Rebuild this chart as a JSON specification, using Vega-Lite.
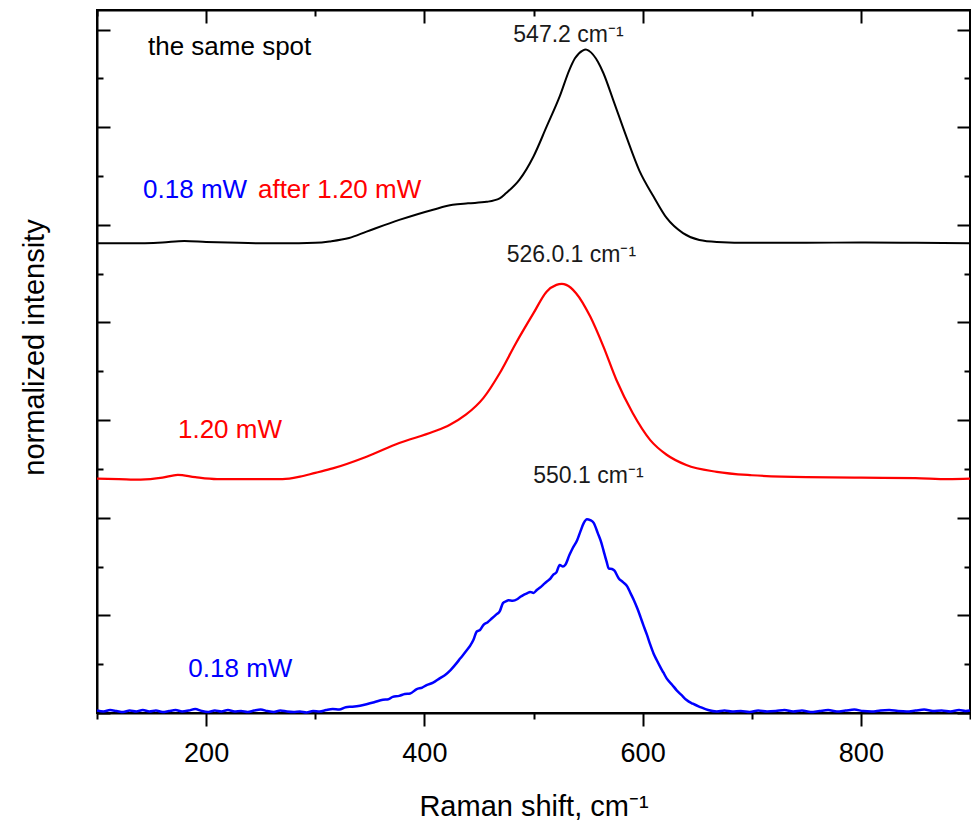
{
  "$schema": "https://vega.github.io/schema/vega-lite/v6.json",
  "autosize": {"type": "none"},
  "padding": {"left": 97, "top": 10, "right": 1, "bottom": 109},
  "width": 873,
  "height": 703,
  "background": "white",
  "config": {
    "view": {"stroke": "black", "strokeWidth": 2},
    "font": "Liberation Sans",
    "axis": {"grid": false, "domainColor": "black", "domainWidth": 2, "tickColor": "black", "tickWidth": 2, "labelColor": "black", "titleColor": "black", "titleFontWeight": "normal", "labelFont": "Liberation Sans", "titleFont": "Liberation Sans"}
  },
  "datasets": {
    "spectra": [
      {"s":"after 1.20 mW","x":100,"y":9.62},{"s":"after 1.20 mW","x":130,"y":9.62},{"s":"after 1.20 mW","x":160,"y":9.64},{"s":"after 1.20 mW","x":180,"y":9.67},{"s":"after 1.20 mW","x":200,"y":9.65},{"s":"after 1.20 mW","x":230,"y":9.63},{"s":"after 1.20 mW","x":260,"y":9.62},{"s":"after 1.20 mW","x":285,"y":9.62},{"s":"after 1.20 mW","x":300,"y":9.63},{"s":"after 1.20 mW","x":313,"y":9.66},{"s":"after 1.20 mW","x":331,"y":9.73},{"s":"after 1.20 mW","x":347,"y":9.86},{"s":"after 1.20 mW","x":377,"y":10.10},{"s":"after 1.20 mW","x":408,"y":10.31},{"s":"after 1.20 mW","x":426,"y":10.41},{"s":"after 1.20 mW","x":440,"y":10.44},{"s":"after 1.20 mW","x":457,"y":10.47},{"s":"after 1.20 mW","x":469,"y":10.54},{"s":"after 1.20 mW","x":475,"y":10.65},{"s":"after 1.20 mW","x":487,"y":10.92},{"s":"after 1.20 mW","x":500,"y":11.40},{"s":"after 1.20 mW","x":512,"y":12.01},{"s":"after 1.20 mW","x":524,"y":12.63},{"s":"after 1.20 mW","x":533,"y":13.18},{"s":"after 1.20 mW","x":538,"y":13.41},{"s":"after 1.20 mW","x":545,"y":13.57},{"s":"after 1.20 mW","x":548,"y":13.59},{"s":"after 1.20 mW","x":551,"y":13.56},{"s":"after 1.20 mW","x":559,"y":13.34},{"s":"after 1.20 mW","x":564,"y":13.11},{"s":"after 1.20 mW","x":573,"y":12.56},{"s":"after 1.20 mW","x":585,"y":11.81},{"s":"after 1.20 mW","x":597,"y":11.11},{"s":"after 1.20 mW","x":610,"y":10.58},{"s":"after 1.20 mW","x":622,"y":10.14},{"s":"after 1.20 mW","x":637,"y":9.83},{"s":"after 1.20 mW","x":652,"y":9.69},{"s":"after 1.20 mW","x":668,"y":9.65},{"s":"after 1.20 mW","x":700,"y":9.63},{"s":"after 1.20 mW","x":750,"y":9.63},{"s":"after 1.20 mW","x":800,"y":9.64},{"s":"after 1.20 mW","x":850,"y":9.63},{"s":"after 1.20 mW","x":900,"y":9.62},
      {"s":"1.20 mW","x":100,"y":4.80},{"s":"1.20 mW","x":120,"y":4.79},{"s":"1.20 mW","x":140,"y":4.78},{"s":"1.20 mW","x":160,"y":4.82},{"s":"1.20 mW","x":174,"y":4.88},{"s":"1.20 mW","x":190,"y":4.83},{"s":"1.20 mW","x":210,"y":4.79},{"s":"1.20 mW","x":240,"y":4.79},{"s":"1.20 mW","x":270,"y":4.79},{"s":"1.20 mW","x":286,"y":4.84},{"s":"1.20 mW","x":300,"y":4.92},{"s":"1.20 mW","x":316,"y":5.01},{"s":"1.20 mW","x":347,"y":5.25},{"s":"1.20 mW","x":377,"y":5.53},{"s":"1.20 mW","x":408,"y":5.76},{"s":"1.20 mW","x":423,"y":5.90},{"s":"1.20 mW","x":438,"y":6.11},{"s":"1.20 mW","x":454,"y":6.45},{"s":"1.20 mW","x":469,"y":6.96},{"s":"1.20 mW","x":484,"y":7.58},{"s":"1.20 mW","x":500,"y":8.19},{"s":"1.20 mW","x":512,"y":8.63},{"s":"1.20 mW","x":521,"y":8.77},{"s":"1.20 mW","x":526,"y":8.79},{"s":"1.20 mW","x":530,"y":8.77},{"s":"1.20 mW","x":539,"y":8.60},{"s":"1.20 mW","x":552,"y":8.12},{"s":"1.20 mW","x":564,"y":7.51},{"s":"1.20 mW","x":576,"y":6.82},{"s":"1.20 mW","x":591,"y":6.14},{"s":"1.20 mW","x":607,"y":5.59},{"s":"1.20 mW","x":622,"y":5.29},{"s":"1.20 mW","x":640,"y":5.08},{"s":"1.20 mW","x":668,"y":4.94},{"s":"1.20 mW","x":700,"y":4.87},{"s":"1.20 mW","x":750,"y":4.83},{"s":"1.20 mW","x":800,"y":4.82},{"s":"1.20 mW","x":850,"y":4.81},{"s":"1.20 mW","x":880,"y":4.79},{"s":"1.20 mW","x":900,"y":4.80},
      {"s":"0.18 mW","x":100,"y":0.05},{"s":"0.18 mW","x":106,"y":0.03},{"s":"0.18 mW","x":112,"y":0.06},{"s":"0.18 mW","x":118,"y":0.04},{"s":"0.18 mW","x":124,"y":0.02},{"s":"0.18 mW","x":130,"y":0.05},{"s":"0.18 mW","x":136,"y":0.03},{"s":"0.18 mW","x":142,"y":0.06},{"s":"0.18 mW","x":148,"y":0.03},{"s":"0.18 mW","x":154,"y":0.05},{"s":"0.18 mW","x":160,"y":0.02},{"s":"0.18 mW","x":166,"y":0.04},{"s":"0.18 mW","x":172,"y":0.06},{"s":"0.18 mW","x":178,"y":0.03},{"s":"0.18 mW","x":184,"y":0.05},{"s":"0.18 mW","x":190,"y":0.08},{"s":"0.18 mW","x":196,"y":0.04},{"s":"0.18 mW","x":202,"y":0.02},{"s":"0.18 mW","x":208,"y":0.05},{"s":"0.18 mW","x":214,"y":0.03},{"s":"0.18 mW","x":220,"y":0.06},{"s":"0.18 mW","x":226,"y":0.03},{"s":"0.18 mW","x":232,"y":0.04},{"s":"0.18 mW","x":238,"y":0.02},{"s":"0.18 mW","x":244,"y":0.05},{"s":"0.18 mW","x":250,"y":0.07},{"s":"0.18 mW","x":256,"y":0.04},{"s":"0.18 mW","x":262,"y":0.02},{"s":"0.18 mW","x":268,"y":0.05},{"s":"0.18 mW","x":274,"y":0.03},{"s":"0.18 mW","x":280,"y":0.02},{"s":"0.18 mW","x":286,"y":0.03},{"s":"0.18 mW","x":292,"y":0.01},{"s":"0.18 mW","x":298,"y":0.04},{"s":"0.18 mW","x":304,"y":0.03},{"s":"0.18 mW","x":310,"y":0.06},{"s":"0.18 mW","x":316,"y":0.08},{"s":"0.18 mW","x":322,"y":0.07},{"s":"0.18 mW","x":328,"y":0.12},{"s":"0.18 mW","x":334,"y":0.13},{"s":"0.18 mW","x":341,"y":0.15},{"s":"0.18 mW","x":347,"y":0.18},{"s":"0.18 mW","x":354,"y":0.22},{"s":"0.18 mW","x":362,"y":0.27},{"s":"0.18 mW","x":367,"y":0.28},{"s":"0.18 mW","x":371,"y":0.33},{"s":"0.18 mW","x":377,"y":0.35},{"s":"0.18 mW","x":382,"y":0.39},{"s":"0.18 mW","x":387,"y":0.40},{"s":"0.18 mW","x":393,"y":0.49},{"s":"0.18 mW","x":398,"y":0.52},{"s":"0.18 mW","x":402,"y":0.57},{"s":"0.18 mW","x":408,"y":0.62},{"s":"0.18 mW","x":414,"y":0.71},{"s":"0.18 mW","x":419,"y":0.78},{"s":"0.18 mW","x":424,"y":0.88},{"s":"0.18 mW","x":428,"y":0.98},{"s":"0.18 mW","x":433,"y":1.12},{"s":"0.18 mW","x":439,"y":1.29},{"s":"0.18 mW","x":442,"y":1.38},{"s":"0.18 mW","x":445,"y":1.50},{"s":"0.18 mW","x":448,"y":1.67},{"s":"0.18 mW","x":451,"y":1.70},{"s":"0.18 mW","x":454,"y":1.80},{"s":"0.18 mW","x":458,"y":1.86},{"s":"0.18 mW","x":462,"y":1.94},{"s":"0.18 mW","x":466,"y":2.02},{"s":"0.18 mW","x":469,"y":2.08},{"s":"0.18 mW","x":472,"y":2.25},{"s":"0.18 mW","x":475,"y":2.29},{"s":"0.18 mW","x":477,"y":2.31},{"s":"0.18 mW","x":481,"y":2.30},{"s":"0.18 mW","x":485,"y":2.33},{"s":"0.18 mW","x":488,"y":2.38},{"s":"0.18 mW","x":491,"y":2.42},{"s":"0.18 mW","x":494,"y":2.45},{"s":"0.18 mW","x":497,"y":2.48},{"s":"0.18 mW","x":500,"y":2.46},{"s":"0.18 mW","x":503,"y":2.52},{"s":"0.18 mW","x":506,"y":2.57},{"s":"0.18 mW","x":509,"y":2.63},{"s":"0.18 mW","x":512,"y":2.69},{"s":"0.18 mW","x":515,"y":2.74},{"s":"0.18 mW","x":518,"y":2.83},{"s":"0.18 mW","x":521,"y":2.88},{"s":"0.18 mW","x":524,"y":3.03},{"s":"0.18 mW","x":527,"y":3.00},{"s":"0.18 mW","x":529,"y":3.03},{"s":"0.18 mW","x":533,"y":3.24},{"s":"0.18 mW","x":536,"y":3.38},{"s":"0.18 mW","x":540,"y":3.54},{"s":"0.18 mW","x":543,"y":3.72},{"s":"0.18 mW","x":546,"y":3.89},{"s":"0.18 mW","x":549,"y":3.97},{"s":"0.18 mW","x":552,"y":3.95},{"s":"0.18 mW","x":555,"y":3.90},{"s":"0.18 mW","x":559,"y":3.68},{"s":"0.18 mW","x":562,"y":3.50},{"s":"0.18 mW","x":564,"y":3.34},{"s":"0.18 mW","x":567,"y":3.10},{"s":"0.18 mW","x":569,"y":2.96},{"s":"0.18 mW","x":572,"y":2.95},{"s":"0.18 mW","x":574,"y":2.92},{"s":"0.18 mW","x":578,"y":2.76},{"s":"0.18 mW","x":582,"y":2.68},{"s":"0.18 mW","x":586,"y":2.59},{"s":"0.18 mW","x":589,"y":2.45},{"s":"0.18 mW","x":592,"y":2.31},{"s":"0.18 mW","x":595,"y":2.15},{"s":"0.18 mW","x":598,"y":1.97},{"s":"0.18 mW","x":601,"y":1.78},{"s":"0.18 mW","x":604,"y":1.60},{"s":"0.18 mW","x":607,"y":1.40},{"s":"0.18 mW","x":610,"y":1.22},{"s":"0.18 mW","x":613,"y":1.08},{"s":"0.18 mW","x":616,"y":0.95},{"s":"0.18 mW","x":619,"y":0.83},{"s":"0.18 mW","x":622,"y":0.71},{"s":"0.18 mW","x":627,"y":0.58},{"s":"0.18 mW","x":631,"y":0.47},{"s":"0.18 mW","x":636,"y":0.36},{"s":"0.18 mW","x":640,"y":0.27},{"s":"0.18 mW","x":646,"y":0.19},{"s":"0.18 mW","x":653,"y":0.12},{"s":"0.18 mW","x":660,"y":0.06},{"s":"0.18 mW","x":668,"y":0.03},{"s":"0.18 mW","x":675,"y":0.05},{"s":"0.18 mW","x":682,"y":0.03},{"s":"0.18 mW","x":690,"y":0.04},{"s":"0.18 mW","x":698,"y":0.02},{"s":"0.18 mW","x":706,"y":0.05},{"s":"0.18 mW","x":714,"y":0.03},{"s":"0.18 mW","x":722,"y":0.04},{"s":"0.18 mW","x":730,"y":0.06},{"s":"0.18 mW","x":738,"y":0.03},{"s":"0.18 mW","x":746,"y":0.05},{"s":"0.18 mW","x":754,"y":0.02},{"s":"0.18 mW","x":762,"y":0.04},{"s":"0.18 mW","x":770,"y":0.06},{"s":"0.18 mW","x":778,"y":0.03},{"s":"0.18 mW","x":786,"y":0.05},{"s":"0.18 mW","x":794,"y":0.07},{"s":"0.18 mW","x":802,"y":0.04},{"s":"0.18 mW","x":810,"y":0.03},{"s":"0.18 mW","x":818,"y":0.05},{"s":"0.18 mW","x":826,"y":0.06},{"s":"0.18 mW","x":834,"y":0.04},{"s":"0.18 mW","x":842,"y":0.03},{"s":"0.18 mW","x":850,"y":0.05},{"s":"0.18 mW","x":858,"y":0.07},{"s":"0.18 mW","x":866,"y":0.04},{"s":"0.18 mW","x":874,"y":0.05},{"s":"0.18 mW","x":882,"y":0.03},{"s":"0.18 mW","x":890,"y":0.06},{"s":"0.18 mW","x":896,"y":0.04},{"s":"0.18 mW","x":900,"y":0.05}
    ],
    "labels": [
      {"text":"the same spot","s":"after 1.20 mW","x":146.7,"y":13.48},
      {"text":"0.18 mW","s":"0.18 mW","x":142.2,"y":10.55},
      {"text":"after 1.20 mW","s":"1.20 mW","x":247.5,"y":10.55},
      {"text":"1.20 mW","s":"1.20 mW","x":174.2,"y":5.63},
      {"text":"0.18 mW","s":"0.18 mW","x":183.7,"y":0.74}
    ],
    "peaks": [
      {"text":"547.2 cm⁻¹","x":481.5,"y":13.75},
      {"text":"526.0.1 cm⁻¹","x":475.4,"y":9.24},
      {"text":"550.1 cm⁻¹","x":499.8,"y":4.71}
    ]
  },
  "layer": [
    {
      "data": {"name": "spectra"},
      "mark": {"type": "line", "interpolate": "monotone"},
      "encoding": {
        "x": {"field": "x", "type": "quantitative", "scale": {"domain": [100, 900], "nice": false, "zero": false},
          "axis": {"orient": "bottom", "values": [100,200,300,400,500,600,700,800,900],
            "labelExpr": "datum.value % 200 === 0 ? datum.label : ''",
            "tickSize": {"condition": {"test": "datum.value % 200 === 0", "value": 13}, "value": 6},
            "labelFontSize": 27, "labelBaseline": "alphabetic", "labelPadding": 35, "labelFlush": false, "labelOverlap": false,
            "title": "Raman shift, cm⁻¹", "titleFontSize": 29, "titleBaseline": "alphabetic", "titleY": 102}},
        "y": {"field": "y", "type": "quantitative", "scale": {"domain": [0, 14.4], "nice": false, "zero": false},
          "axis": {"orient": "left", "values": [0,1,2,3,4,5,6,7,8,9,10,11,12,13,14], "labels": false,
            "tickSize": {"condition": {"test": "datum.value % 2 === 0", "value": -13}, "value": -6},
            "title": "normalized intensity", "titleFontSize": 29, "titleBaseline": "alphabetic", "titleX": -54, "titleY": 337}},
        "color": {"field": "s", "type": "nominal", "scale": {"domain": ["after 1.20 mW", "1.20 mW", "0.18 mW"], "range": ["#000000", "#ff0000", "#0000ff"]}, "legend": null},
        "strokeWidth": {"field": "s", "type": "nominal", "scale": {"domain": ["after 1.20 mW", "1.20 mW", "0.18 mW"], "range": [2, 2.5, 3]}, "legend": null},
        "detail": {"field": "s"}
      }
    },
    {
      "data": {"name": "labels"},
      "mark": {"type": "text", "align": "left", "baseline": "alphabetic", "fontSize": 26, "font": "Liberation Sans"},
      "encoding": {
        "x": {"field": "x", "type": "quantitative", "scale": {"domain": [100, 900], "nice": false, "zero": false},
          "axis": {"orient": "top", "values": [100,200,300,400,500,600,700,800,900], "labels": false, "title": null,
            "tickSize": {"condition": {"test": "datum.value % 200 === 0", "value": -13}, "value": -6}}},
        "y": {"field": "y", "type": "quantitative", "scale": {"domain": [0, 14.4], "nice": false, "zero": false},
          "axis": {"orient": "right", "values": [0,1,2,3,4,5,6,7,8,9,10,11,12,13,14], "labels": false, "title": null,
            "tickSize": {"condition": {"test": "datum.value % 2 === 0", "value": -13}, "value": -6}}},
        "text": {"field": "text"},
        "color": {"field": "s", "type": "nominal", "scale": {"domain": ["after 1.20 mW", "1.20 mW", "0.18 mW"], "range": ["#000000", "#ff0000", "#0000ff"]}, "legend": null}
      }
    },
    {
      "data": {"name": "peaks"},
      "mark": {"type": "text", "align": "left", "baseline": "alphabetic", "fontSize": 23, "font": "Liberation Sans", "color": "#1a1a1a"},
      "encoding": {
        "x": {"field": "x", "type": "quantitative", "axis": null},
        "y": {"field": "y", "type": "quantitative", "axis": null},
        "text": {"field": "text"}
      }
    }
  ],
  "resolve": {"axis": {"x": "independent", "y": "independent"}}
}
